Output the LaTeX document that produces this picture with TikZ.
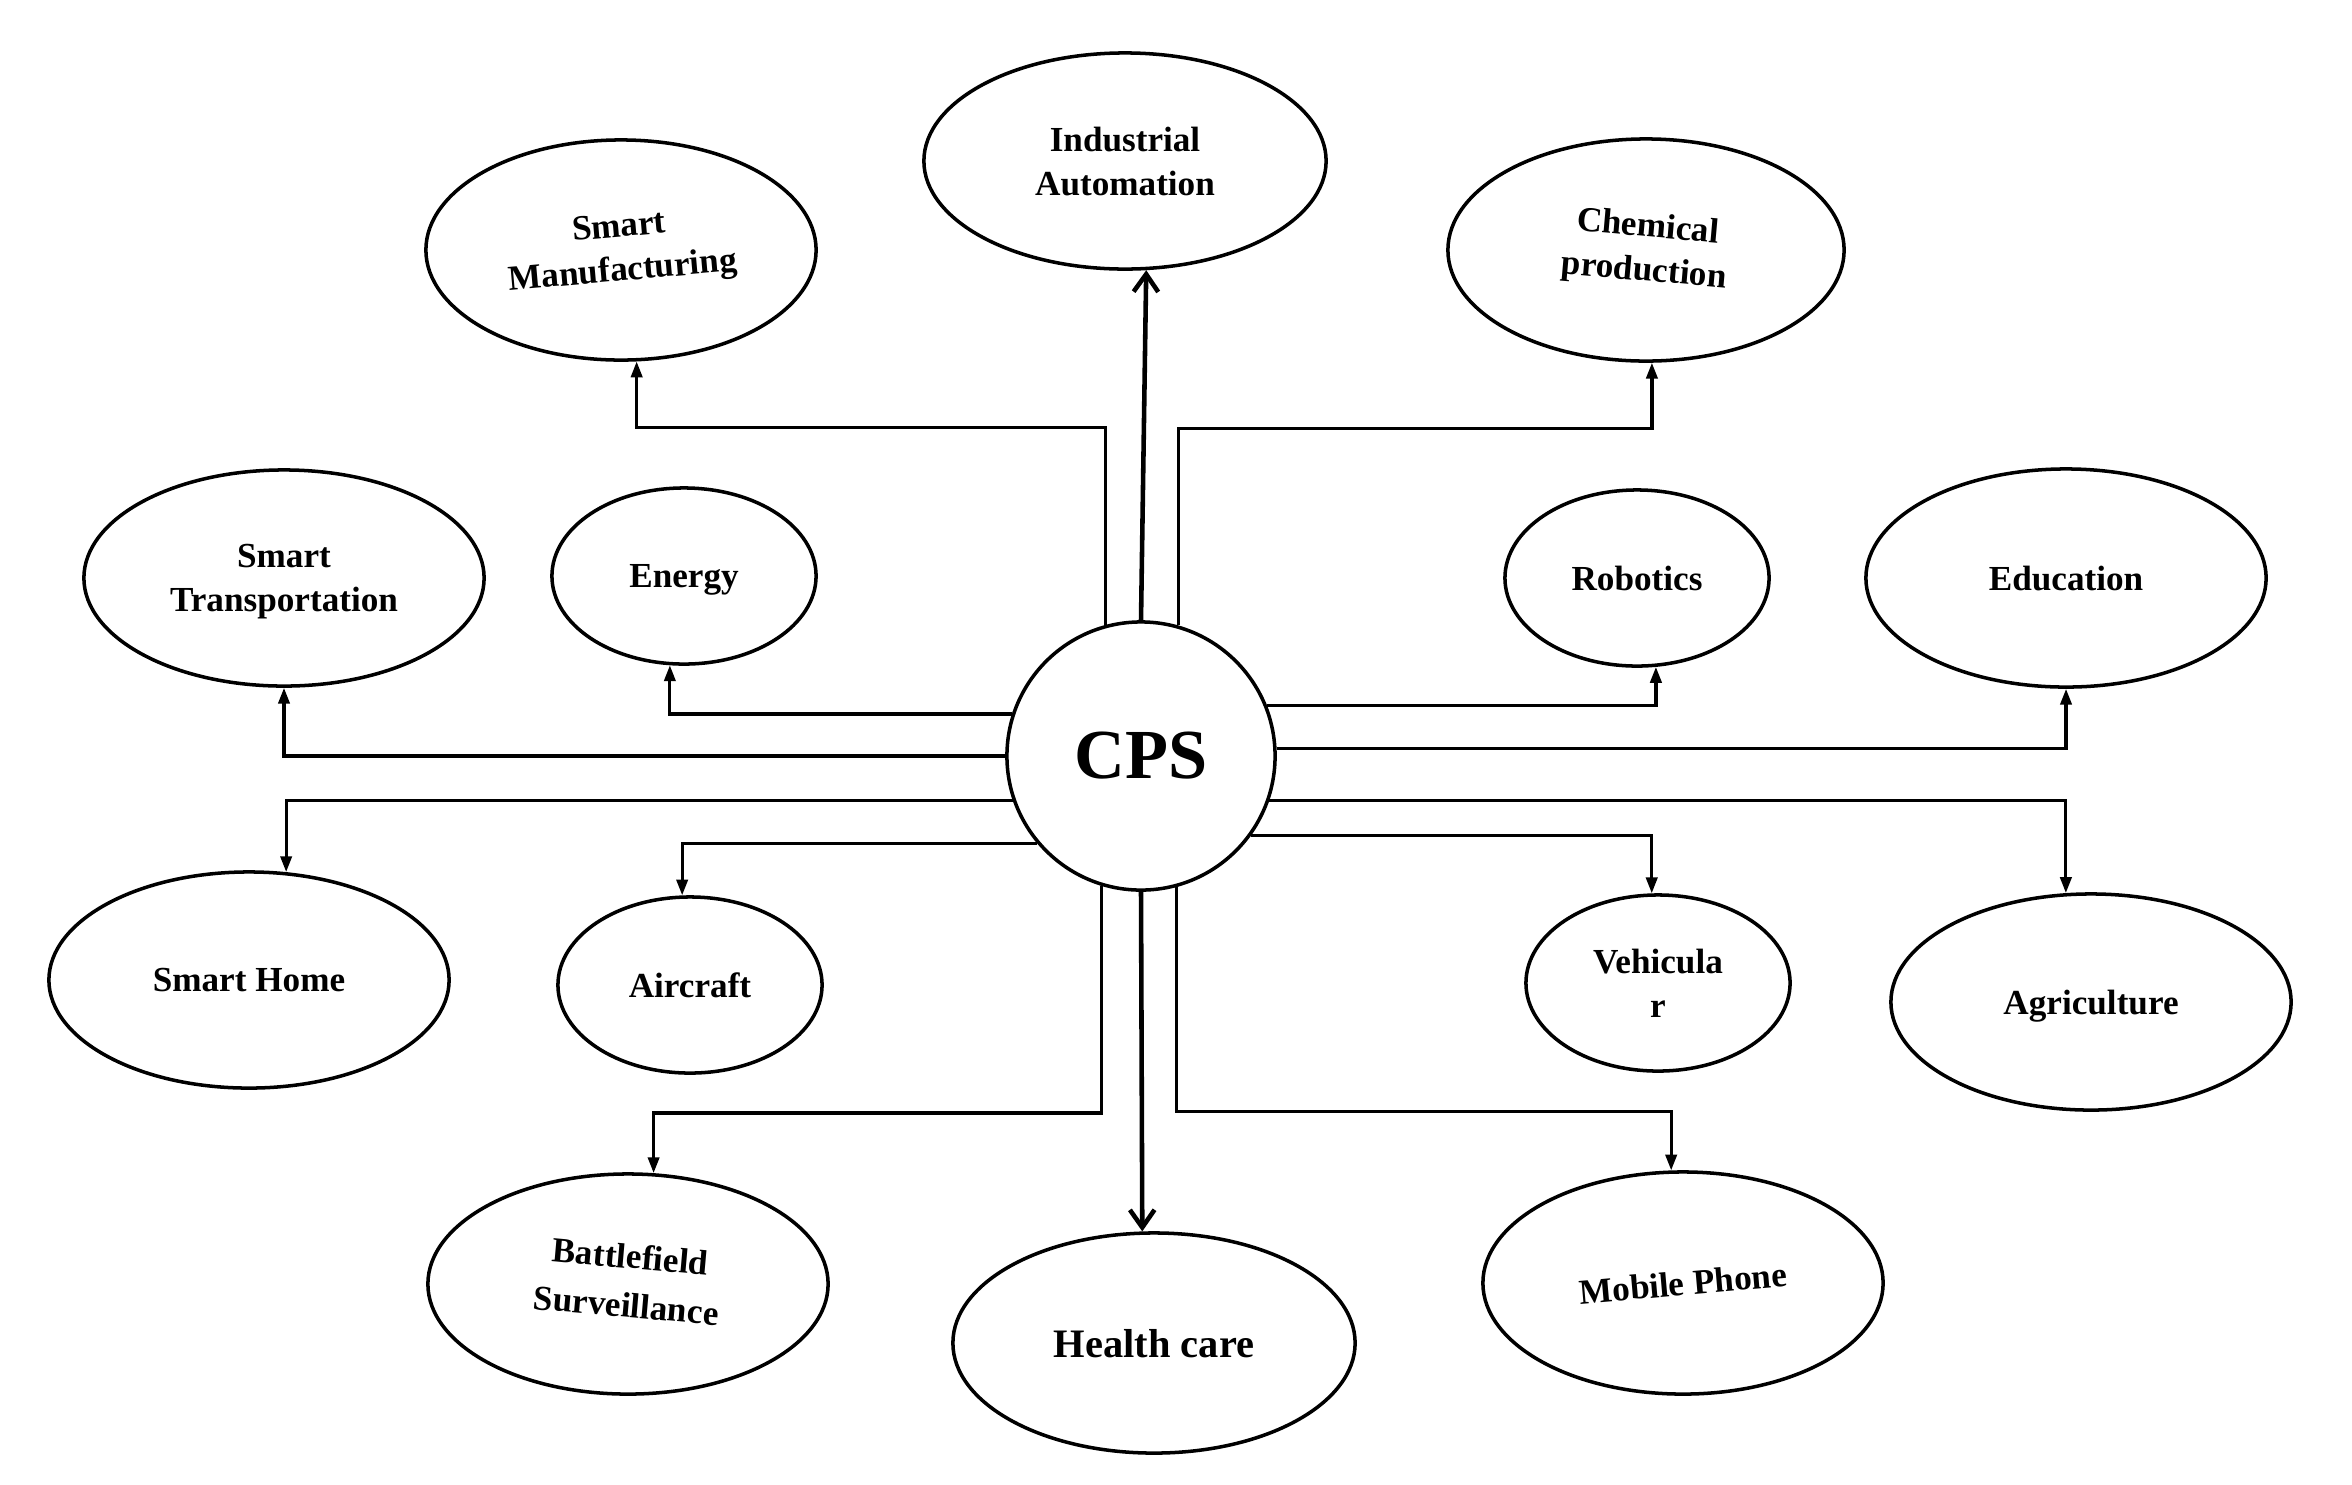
\documentclass[tikz,border=0pt]{standalone}
\usepackage{fontspec}
\usepackage{graphicx}
\setmainfont{Liberation Serif}
\usetikzlibrary{arrows.meta}
\usetikzlibrary{shapes.geometric}

\newcommand{\twolines}[3][0pt]{\begin{tabular}{@{}c@{}}#2\\[#1]#3\end{tabular}}

\begin{document}
\begin{tikzpicture}[x=0.01cm,y=-0.01cm,
    app/.style={draw,ellipse,line width=1pt,inner sep=0pt,align=center,text depth=0pt,
        font=\fontsize{10}{12.5}\selectfont\bfseries},
    tilted/.style={text depth=},
    big/.style={app,minimum width=4cm,minimum height=2.18cm},
    small/.style={app,minimum width=2.64cm,minimum height=1.76cm},
    link/.style={line width=0.9pt,-{Triangle[length=4.5pt,width=3.2pt]}},
    main/.style={line width=1.3pt,-{Straight Barb[length=5pt,width=7pt]}}]
    \useasboundingbox (0,0) rectangle (2352,1484);

    % centre
    \node[draw,circle,line width=1pt,minimum size=2.68cm,
        font=\fontsize{20}{24}\selectfont\bfseries] (cps) at (1141,756) {CPS};

    % upper half
    \node[big,minimum width=4.02cm,minimum height=2.16cm] (ind) at (1125,161) {Industrial\\Automation};
    \node[big,tilted,minimum width=3.9cm,minimum height=2.2cm] (manu) at (621,250) {\rotatebox{5}{\twolines{Smart}{Manufacturing}}};
    \node[big,tilted,minimum width=3.96cm,minimum height=2.22cm] (chem) at (1646,250) {\rotatebox{-5}{\twolines{Chemical}{production}}};
    \node[big,minimum height=2.16cm] (trans) at (284,578) {Smart\\Transportation};
    \node[small] (energy) at (684,576) {Energy};
    \node[small] (robot) at (1637,578) {Robotics};
    \node[big] (edu) at (2066,578) {Education};

    % lower half
    \node[big,minimum height=2.16cm] (home) at (249,980) {Smart Home};
    \node[small] (air) at (690,985) {Aircraft};
    \node[small] (veh) at (1658,983) {Vehicula\\r};
    \node[big,minimum height=2.16cm] (agri) at (2091,1002) {Agriculture};
    \node[big,tilted,minimum height=2.2cm] (battle) at (628,1284) {\rotatebox{-5}{\twolines[1.5pt]{Battlefield}{Surveillance}}};
    \node[big,minimum width=4.02cm,minimum height=2.2cm,font=\fontsize{11.5}{14}\selectfont\bfseries] (health) at (1154,1343) {Health care};
    \node[big,minimum height=2.22cm] (mobile) at (1683,1283) {\rotatebox{5}{Mobile Phone}};

    % connectors
    \draw[main] (cps.north) -- (ind.-79);
    \draw[main] (cps.south) -- (health.96);
    \draw[link] (cps.105) -- ++(0,-197) -| (manu.-82);
    \draw[link] (cps.74) -- ++(0,-197) -| (chem.-87);
    \draw[link] (cps.162) -| (energy.-99);
    \draw[link] (cps.west) -| (trans.south);
    \draw[link] (cps.199) -| (home.71);
    \draw[link] (cps.220) -| (air.95);
    \draw[link] (cps.22) -| (robot.-78);
    \draw[link] (cps.3) -| (edu.south);
    \draw[link] (cps.-19) -| (agri.103);
    \draw[link] (cps.-36) -| (veh.94);
    \draw[link] (cps.253) -- ++(0,227) -| (battle.77);
    \draw[link] (cps.285) -- ++(0,224) -| (mobile.96);
\end{tikzpicture}
\end{document}
